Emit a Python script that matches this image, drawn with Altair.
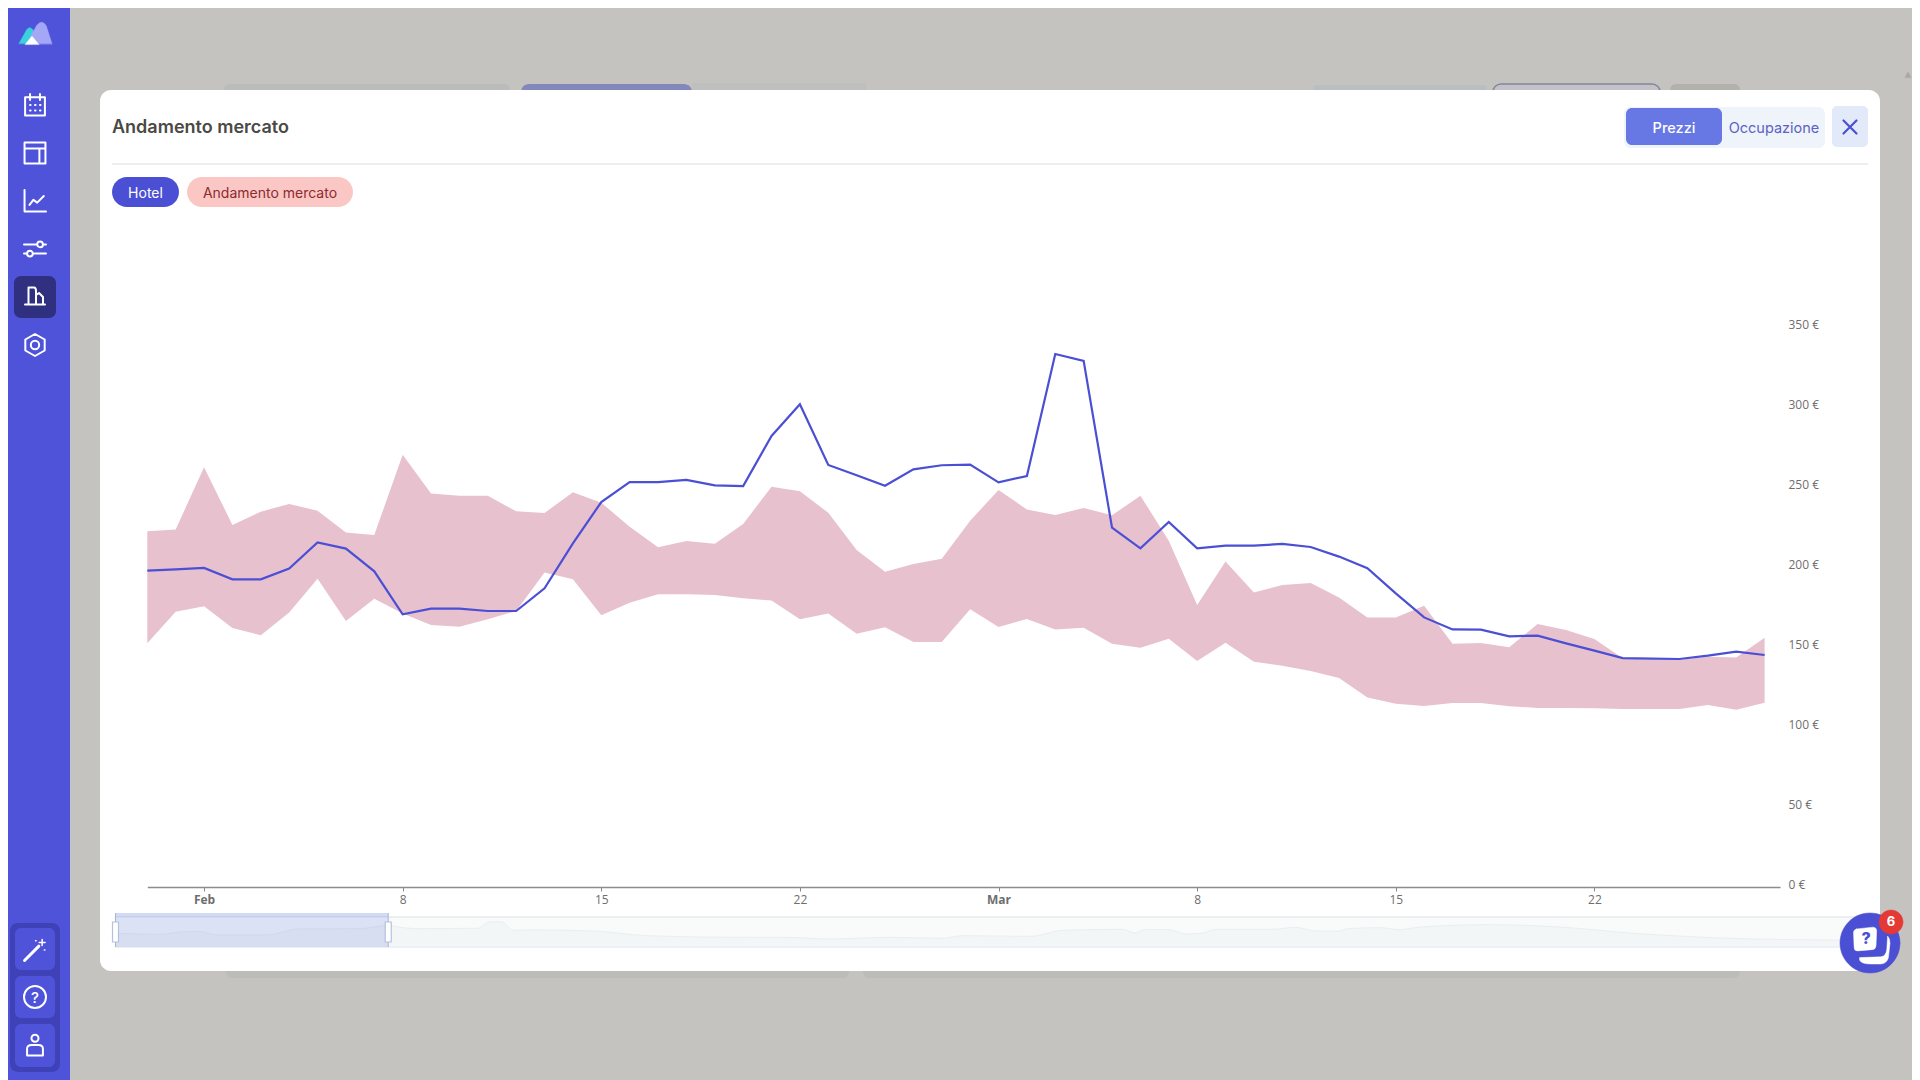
import altair as alt
import pandas as pd

START = "2023-01-30"
hotel = [197.7,198.5,199.4,192.3,192.3,199,215.4,211.5,197.3,170.4,174,174,172.5,172.5,186.7,214.8,240.6,253.1,253.1,254.4,251,250.6,
         281.9,301.7,263.8,257.3,250.8,261,263.6,264,252.9,256.9,333.1,328.8,224.6,211.7,228.1,211.7,213.3,213.3,214.4,212.5,206.5,
         199.2,183.5,168.5,161,160.8,156.7,157.1,152.3,147.7,143.1,142.7,142.5,144.6,147.1,145]
market_high = [222.3,223.5,262.3,226.3,234.6,239.4,235.2,221.5,220,270.2,246,244.6,244.6,234.8,233.8,246.7,240.2,225.2,212.3,216.3,214.6,
               226.9,250.2,247.3,233.9,210.6,197.1,201.9,205.2,228.9,248.1,236,232.5,236.9,232.3,244.6,216.4,176.3,203.5,184,188.8,190,181,
               168.5,168.5,175.8,152.1,152.5,149.8,164.4,160.6,155,143,142,142,143.9,143.5,155.8]
market_low = [152.3,172.1,175.4,161.9,157.3,171.5,192.7,166.3,180.2,171,163.8,162.7,167.3,172.5,196.5,192.3,169.8,177.7,182.9,182.9,182.5,180.4,
              179,167.3,171,158.3,162.3,153.1,153.1,173.6,162.5,167.5,161,162.1,152.1,149.6,155.2,141.3,152.7,140.8,138.3,135,130.6,
              118.5,114.6,113.1,115,115,113,111.9,111.9,111.7,111.3,111.3,111.3,113.8,110.8,115.2]
y_ticks = [0, 50, 100, 150, 200, 250, 300, 350]
x_tick_dates = ["2023-02-01", "2023-02-08", "2023-02-15", "2023-02-22", "2023-03-01", "2023-03-08", "2023-03-15", "2023-03-22"]
nav_day = [0,9.5,15,18,21.5,32,39,52,58,60,64.6,77,79.5,82,84.6,89,101.6,113,133.7,142,152,164.6,176,180,194.6,201.6,214,216.8,219,224,
           227.5,231,234,246,251,255,260,262,269,273,277.6,292,307,323,343.5,364,371]
nav_val = [82,76,92,92,72,72,108,110,130,120,110,112,150,152,100,102,96,68,58,58,48,58,52,68,64,100,106,84,104,104,
           78,82,106,106,118,96,94,110,116,104,120,134,120,82,52,42,40]
nav_selection = [0, 58]

BG = "#c4c3bf"; SIDE = "#4e53d9"; BLUE = "#4a4fd3"
M = 8  # page margin
one = alt.InlineData(values=[{}])
ms = lambda d: int(pd.Timestamp(d).value // 10**6)


def rect(x0, x1, y0, y1, fill, r=0, **kw):
    return alt.Chart(one).mark_rect(fill=fill, cornerRadius=r, **kw).encode(
        x=alt.value(x0 - M), x2=alt.value(x1 - M), y=alt.value(y0 - M), y2=alt.value(y1 - M))


def text(s, x, y, size, color, weight=400, align="left", font="Inter"):
    return alt.Chart(one).mark_text(text=s, font=font, fontSize=size, fontWeight=weight, color=color,
                                    align=align, baseline="middle").encode(x=alt.value(x - M), y=alt.value(y - M + 1.5))


def icon(path, x, y, w, stroke="white", fill=None, sw=2):
    kw = dict(shape=path, size=w * w, opacity=1, strokeWidth=sw, strokeJoin="round", strokeCap="round")
    if fill:
        kw.update(fill=fill, filled=True, stroke=stroke or fill)
    else:
        kw.update(filled=False, stroke=stroke)
    return alt.Chart(one).mark_point(**kw).encode(x=alt.value(x - M), y=alt.value(y - M))


chrome = [
    # page behind the modal
    rect(224, 510, 84, 100, "#b9bcbb", 6), rect(521, 692, 84, 100, "#8288b9", 8), rect(692, 866, 83, 100, "#bfc0bd"),
    rect(1313, 1487, 85, 100, "#b9bfc1", 4), rect(1493, 1660, 84, 100, "#c2c2c8", 8, stroke="#85859f", strokeWidth=1.5),
    rect(1670, 1740, 84, 100, "#b3b1ac", 6),
    rect(226, 849, 960, 978, "#bcbdba", 6), rect(863, 1740, 960, 978, "#bcbdba", 6),
    # sidebar
    rect(M, 70, M, 1080, SIDE),
    rect(14, 56, 276, 318, "#2f3180", 7),
    rect(10, 60, 923, 1072, "#3e42b6", 8),
    rect(15, 55, 928, 970, SIDE, 6), rect(15, 55, 976, 1018, SIDE, 6), rect(15, 55, 1024, 1067, SIDE, 6),
    # modal
    rect(100, 1880, 90, 971, "white", 11),
    rect(112, 1868, 163, 165, "#eeeeee"),
    text("Andamento mercato", 112, 126, 18, "#4b4944", 600),
    rect(112, 179, 177, 207, BLUE, 15), text("Hotel", 145.5, 192, 14, "white", 400, "center"),
    rect(187, 353, 177, 207, "#fbc7c4", 15), text("Andamento mercato", 270, 192, 14, "#8c2b30", 400, "center"),
    rect(1624, 1825, 107, 148, "#eff3fa", 7), rect(1626, 1722, 108, 145, "#6777e3", 6),
    text("Prezzi", 1674, 127, 14.5, "white", 500, "center"),
    text("Occupazione", 1774, 127, 14.5, "#5b62c4", 400, "center"),
    rect(1832, 1868, 106, 147, "#e2e9f8", 5),
    icon("M-1,-1 L1,1 M1,-1 L-1,1", 1850, 127, 13, BLUE, sw=2.2),
    icon("M-1,0.8 L0,-1 L1,0.8 Z", 1908, 75, 6, "#a9a8a4", "#a9a8a4", 0.5),
    # sidebar icons
    icon("M-1,0.7 L-0.35,-0.45 Q-0.1,-0.8 0.2,-0.4 L0.1,0.7 Z", 31, 35, 24, "#38d2dc", "#38d2dc", 0.5),
    icon("M-0.8,0.7 L-0.1,-0.6 Q0.3,-1.1 0.6,-0.55 L1,0.7 Z", 38, 34, 28, "#a4a7f6", "#a4a7f6", 0.5),
    icon("M-0.75,0.7 L0,-0.2 L0.75,0.7 Z", 32, 38, 18, "white", "white", 0.5),
    icon("M-0.9,-0.7 H0.9 V0.95 H-0.9 Z M-0.45,-1 V-0.45 M0.45,-1 V-0.45 M-0.45,0 h0.05 M0,0 h0.05 M0.45,0 h0.05 M-0.45,0.5 h0.05 M0,0.5 h0.05 M0.45,0.5 h0.05", 35, 105, 22),
    icon("M-0.95,-0.95 H0.95 V0.95 H-0.95 Z M-0.95,-0.4 H0.95 M0.4,-0.4 V0.95", 35, 153, 22),
    icon("M-0.95,-1 V0.95 H1 M-0.5,0.35 L-0.15,-0.1 L0.2,0.15 L0.8,-0.45", 35, 201, 22),
    icon("M-1,-0.42 H0.2 M0.72,-0.42 H1 M-1,0.42 H-0.72 M-0.2,0.42 H1 M0.72,-0.42 a0.26,0.26 0 1,0 -0.52,0 a0.26,0.26 0 1,0 0.52,0 M-0.2,0.42 a0.26,0.26 0 1,0 -0.52,0 a0.26,0.26 0 1,0 0.52,0", 35, 249, 22),
    icon("M-0.65,0.85 V-0.85 H-0.1 Q0.1,-0.85 0.1,-0.5 V0.85 M0.1,-0.1 L0.4,-0.3 L0.8,0.1 V0.85 M-1,0.85 H1", 35, 296, 20),
    icon("M0,-1 L0.88,-0.5 V0.5 L0,1 L-0.88,0.5 V-0.5 Z M0.38,0 a0.38,0.38 0 1,0 -0.76,0 a0.38,0.38 0 1,0 0.76,0", 35, 345, 22),
    icon("M-0.95,0.95 L0.35,-0.35", 35, 950, 22, sw=3),
    icon("M0.65,-0.95 V-0.4 M0.38,-0.68 H0.92 M0.85,0 h0.05 M0.05,-0.85 h0.05", 35, 950, 22, sw=1.5),
    icon("M1,0 a1,1 0 1,0 -2,0 a1,1 0 1,0 2,0", 35, 997, 22),
    text("?", 35, 996, 15, "white", 500, "center"),
    icon("M0.32,-0.62 a0.32,0.32 0 1,0 -0.64,0 a0.32,0.32 0 1,0 0.64,0 M-0.72,0.95 V0.35 Q-0.72,0 -0.3,0 H0.3 Q0.72,0 0.72,0.35 V0.95 Z", 35, 1045, 22),
]

main = pd.DataFrame({"date": pd.date_range(START, periods=len(hotel)).strftime("%Y-%m-%d"),
                     "hotel": hotel, "low": market_low, "high": market_high})
# pixel frame of the main plot, measured on the reference
x_scale = alt.Scale(type="utc", domain=[ms(START), ms("2023-03-28T13:00:00")], range=[147.3 - M, 1780 - M])
y_scale = alt.Scale(domain=[0, 350], range=[887 - M, 327 - M], nice=False)
W, H = 1904, 1072
x_axis = alt.Axis(values=[ms(d) for d in x_tick_dates], title=None, offset=-(H + M - 887), grid=False, zindex=1,
                  labelExpr="utcdate(datum.value)==1 ? utcFormat(datum.value,'%b') : utcFormat(datum.value,'%-d')",
                  labelFontWeight={"condition": {"test": "utcdate(datum.value)==1", "value": "bold"}, "value": "normal"},
                  labelFont="Open Sans", labelFontSize=12, labelColor="#6e6e6e", labelPadding=3, labelFlush=False,
                  tickSize=4, tickColor="#888888", domainColor="#8c8c8c", domainWidth=1.5)
y_axis = alt.Axis(values=y_ticks, title=None, orient="right", offset=-(W + M - 1788), grid=False, domain=False, ticks=False, zindex=1,
                  labelExpr="datum.value + ' €'", labelFont="Open Sans", labelFontSize=12, labelColor="#6e6e6e",
                  labelPadding=0, labelOffset=-3)
band = alt.Chart(main).mark_area(color="#e8c1cf", opacity=1, interpolate="linear").encode(
    x=alt.X("date:T", scale=x_scale, axis=x_axis),
    y=alt.Y("low:Q", scale=y_scale, axis=y_axis),
    y2="high:Q")
line = alt.Chart(main).mark_line(color=BLUE, strokeWidth=2.2, interpolate="linear").encode(
    x=alt.X("date:T", scale=x_scale, axis=x_axis),
    y=alt.Y("hotel:Q", scale=y_scale, axis=y_axis))
main_layer = alt.layer(band, line)

nav = pd.DataFrame({"day": nav_day, "val": nav_val})
nx = alt.Scale(domain=[0, 371], range=[115.5 - M, 1860 - M], nice=False, zero=False)
ny = alt.Scale(domain=[0, 180], range=[947 - M, 917 - M], nice=False)
nav_bg = alt.Chart(pd.DataFrame({"a": [nav_selection[0]], "b": [371]})).mark_rect(fill="#f9fafa", stroke="#e8ecef", strokeWidth=1.5).encode(
    x=alt.X("a:Q", scale=nx, axis=None), x2="b:Q", y=alt.value(917 - M), y2=alt.value(947 - M))
nav_area = alt.Chart(nav).mark_area(color="#f1f3f4", line={"color": "#ebeef0", "strokeWidth": 1}, interpolate="monotone").encode(
    x=alt.X("day:Q", scale=nx, axis=None), y=alt.Y("val:Q", scale=ny, axis=None))
sel = pd.DataFrame({"a": [nav_selection[0]], "b": [nav_selection[1]]})
nav_sel = alt.Chart(sel).mark_rect(fill="#6b83e0", opacity=0.2).encode(
    x=alt.X("a:Q", scale=nx, axis=None), x2="b:Q", y=alt.value(917 - M), y2=alt.value(947 - M))
nav_sel_top = alt.Chart(sel).mark_rect(fill="#6b83e0", opacity=0.3).encode(
    x=alt.X("a:Q", scale=nx, axis=None), x2="b:Q", y=alt.value(913 - M), y2=alt.value(917 - M))
handles = pd.DataFrame({"d": nav_selection})
nav_rule = alt.Chart(handles).mark_rule(color="#a9b6d6", strokeWidth=1).encode(
    x=alt.X("d:Q", scale=nx, axis=None), y=alt.value(913 - M), y2=alt.value(947 - M))
nav_handle = alt.Chart(handles).mark_point(shape="M-0.3,-1 H0.3 V1 H-0.3 Z", size=400, filled=True, fill="white", stroke="#b5c1dc",
                                           strokeWidth=1.2, opacity=1).encode(
    x=alt.X("d:Q", scale=nx, axis=None), y=alt.value(932 - M))
nav_layer = alt.layer(nav_bg, nav_area, nav_sel, nav_sel_top, nav_rule, nav_handle)

chat = [
    icon("M1,0 a1,1 0 1,0 -2,0 a1,1 0 1,0 2,0", 1870, 943, 60, BLUE, BLUE, 0.5),
    icon("M-0.2,1 Q-0.8,1 -0.9,0.75 L-0.9,0.6 L0.45,0.55 Q0.75,0.5 0.8,0.1 L0.85,-0.75 Q1,-0.6 1,-0.3 L0.9,0.6 Q0.8,1 0.4,1 Z", 1874, 948, 32, "white", "white", 0.5),
    icon("M-0.75,-0.8 L0.55,-0.95 Q0.85,-0.95 0.85,-0.65 L0.8,0.55 Q0.75,0.85 0.5,0.85 L-0.7,0.95 Q-0.95,0.95 -0.95,0.65 L-1,-0.5 Q-1,-0.75 -0.75,-0.8 Z", 1866, 939, 25, "white", "white", 0.5),
    text("?", 1866, 937.5, 16, BLUE, 800, "center"),
    icon("M1,0 a1,1 0 1,0 -2,0 a1,1 0 1,0 2,0", 1891, 922, 24, "#e53935", "#e53935", 0.5),
    text("6", 1891, 920.5, 13, "white", 700, "center"),
]

chart = alt.layer(*chrome, main_layer, nav_layer, *chat).resolve_scale(x="independent", y="independent").properties(
    width=W, height=H, padding=0, background=BG,
    autosize=alt.AutoSizeParams(type="none"),
).configure_view(stroke=None)

chart.save("out.html", embed_options={"renderer": "svg", "actions": False})
